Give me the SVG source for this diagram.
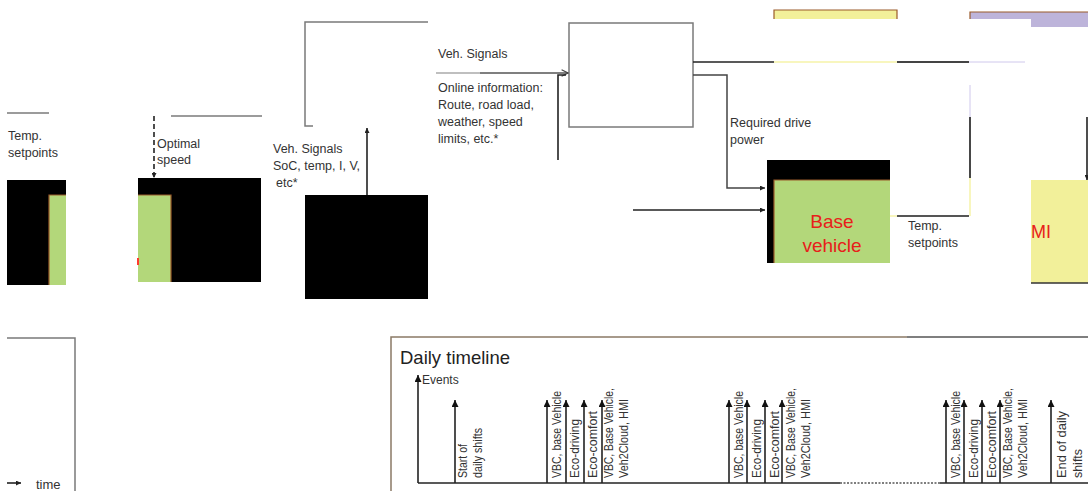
<svg xmlns="http://www.w3.org/2000/svg" width="1088" height="491" viewBox="0 0 1088 491">
<defs>
<style>
.lbl{font-family:"Liberation Sans",Arial,sans-serif;font-size:12.5px;fill:#333}
.ev{font-family:"Liberation Sans",Arial,sans-serif;font-size:12px;fill:#333}
.red{font-family:"Liberation Sans",Arial,sans-serif;font-size:19px;fill:#e8201a}
.ln{fill:none;stroke:#222;stroke-width:1.6}
.gl{fill:none;stroke:#7a7a7a;stroke-width:1.5}
.faint{fill:none;stroke:#f6f3a8;stroke-width:1.5}
.green{fill:#b3d77a}
.brown{fill:none;stroke:#9a5a2a;stroke-width:1.2}
</style>
<marker id="ah" viewBox="0 0 10 10" refX="10" refY="5" markerWidth="5" markerHeight="5" orient="auto" markerUnits="userSpaceOnUse">
<path d="M0,0 L10,5 L0,10 z" fill="#222"/>
</marker>
<marker id="ahs" viewBox="0 0 10 10" refX="10" refY="5" markerWidth="7" markerHeight="7" orient="auto" markerUnits="userSpaceOnUse">
<path d="M0,0 L10,5 L0,10 z" fill="#111"/>
</marker>
<marker id="aho" viewBox="0 0 10 10" refX="9" refY="5" markerWidth="8" markerHeight="8" orient="auto" markerUnits="userSpaceOnUse">
<path d="M1,1 L9,5 L1,9" fill="none" stroke="#444" stroke-width="1.4"/>
</marker>
</defs>
<rect width="1088" height="491" fill="#fff"/>

<g id="node-left-a">
<rect x="7" y="180" width="59" height="105" fill="#000"/>
<rect class="green" x="49" y="195" width="17" height="90"/>
<path class="brown" d="M49,285 V195 H66"/>
<text class="lbl" x="8" y="140">Temp.</text>
<text class="lbl" x="8" y="157">setpoints</text>
</g>

<g id="node-left-b">
<rect x="138" y="178" width="123" height="104" fill="#000"/>
<rect class="green" x="138" y="195" width="33" height="87"/>
<path class="brown" d="M138,195 H171 V282"/>
<rect x="137" y="258" width="2" height="7" fill="#ff3b2f"/>
<text class="lbl" x="157" y="148">Optimal</text>
<text class="lbl" x="157" y="164">speed</text>
</g>

<g id="node-top-mid">
<path class="gl" d="M428,22 H305 V126 H313"/>
</g>

<g id="node-mid-black">
<rect x="305" y="195" width="123" height="104" fill="#000"/>
<text class="lbl" x="273" y="153">Veh. Signals</text>
<text class="lbl" x="273" y="170">SoC, temp, I, V,</text>
<text class="lbl" x="276" y="187">etc*</text>
</g>

<g id="node-box">
<rect x="569" y="23" width="124" height="104" fill="#fff" stroke="#7a7a7a" stroke-width="1.5"/>
</g>

<g id="node-yellow-top">
<path d="M774,19 V10 H897 V19" fill="#f2f09a" stroke="#9a5a2a" stroke-width="1.2"/>
</g>

<g id="node-purple-top">
<path d="M970,19 V12 H1088 V27 H1031 V19 Z" fill="#bdb4da"/>
<path d="M970,19 V12 H1088" fill="none" stroke="#9a5a2a" stroke-width="1.2"/>
</g>

<g id="node-base-vehicle">
<rect x="767" y="160" width="123" height="103" fill="#000"/>
<rect class="green" x="774" y="180" width="116" height="83"/>
<path class="brown" d="M774,263 V180 H890"/>
<text class="red" x="832" y="228" text-anchor="middle">Base</text>
<text class="red" x="832" y="252" text-anchor="middle">vehicle</text>
</g>

<g id="node-hmi">
<rect x="1031" y="180" width="57" height="103" fill="#f2f09a"/>
<line x1="1031" y1="283" x2="1088" y2="283" stroke="#333" stroke-width="1.5"/>
<text class="red" x="1031" y="238" style="font-size:18px">MI</text>
</g>

<g id="node-legend">
<path class="gl" d="M7,338 H75 V491"/>
<text class="lbl" x="36" y="489" style="font-size:13px">time</text>
</g>

<g id="node-timeline">
<path d="M391,491 V337 H907" fill="none" stroke="#8a7a66" stroke-width="1.5"/>
<path d="M907,337 H1088" fill="none" stroke="#555" stroke-width="1.5"/>
<text x="400" y="364" style="font-family:'Liberation Sans',Arial,sans-serif;font-size:18.5px;fill:#222">Daily timeline</text>
<text class="ev" x="422" y="384">Events</text>
</g>

<g id="connectors">
<path class="gl" d="M7,113 H49"/>
<path class="gl" d="M171,116 H262"/>
<path d="M154,116 V178" fill="none" stroke="#222" stroke-width="1.6" stroke-dasharray="5,3" marker-end="url(#ah)"/>
<path class="ln" d="M367,195 V128" marker-end="url(#ah)"/>
<path d="M436,73 H480" fill="none" stroke="#aaa" stroke-width="1.5"/>
<path d="M480,73 H568" fill="none" stroke="#555" stroke-width="1.5" marker-end="url(#aho)"/>
<path class="ln" d="M558,160 V75 H566"/>
<path class="ln" d="M693,62 H774"/>
<path class="faint" d="M774,62 H897"/>
<path d="M897,62 H969" fill="none" stroke="#444" stroke-width="1.8"/>
<path d="M969,62 H1025" fill="none" stroke="#cfc8ec" stroke-width="1"/>
<path d="M693,75 H727 V188 H765" fill="none" stroke="#444" stroke-width="1.5" marker-end="url(#ah)"/>
<path class="ln" d="M633,210 H765" marker-end="url(#ah)"/>
<path class="faint" d="M890,216 H897"/>
<path d="M897,216 H969" fill="none" stroke="#555" stroke-width="1.8"/>
<path class="faint" d="M970,216 V178"/>
<path d="M970,178 V117" fill="none" stroke="#333" stroke-width="1.8"/>
<path d="M970,117 V85" fill="none" stroke="#cfc8ec" stroke-width="1"/>
<path class="ln" d="M1087,117 V180" marker-end="url(#ah)"/>
<path class="ln" d="M7,483 H21" marker-end="url(#ah)"/>
<text class="lbl" x="438" y="58">Veh. Signals</text>
<text class="lbl" x="438" y="92">Online information:</text>
<text class="lbl" x="438" y="109">Route, road load,</text>
<text class="lbl" x="438" y="126">weather, speed</text>
<text class="lbl" x="438" y="143">limits, etc.*</text>
<text class="lbl" x="730" y="127">Required drive</text>
<text class="lbl" x="730" y="144">power</text>
<text class="lbl" x="908" y="230">Temp.</text>
<text class="lbl" x="908" y="247">setpoints</text>
</g>

<g id="timeline-events">
<path class="ln" d="M418,483 V375" marker-end="url(#ahs)"/>
<path class="ln" d="M418,483 H840"/>
<path d="M840,483 H940" fill="none" stroke="#555" stroke-width="1.6" stroke-dasharray="2,1.5"/>
<path class="ln" d="M940,483 H1088"/>
<g class="ln" marker-end="url(#ahs)">
<path d="M455,483 V400"/>
<path d="M547,483 V400"/>
<path d="M566,483 V400"/>
<path d="M584,483 V400"/>
<path d="M602,483 V400"/>
<path d="M729,483 V400"/>
<path d="M747,483 V400"/>
<path d="M765,483 V400"/>
<path d="M782,483 V400"/>
<path d="M946,483 V400"/>
<path d="M964,483 V400"/>
<path d="M982,483 V400"/>
<path d="M1000,483 V400"/>
<path d="M1051,483 V400"/>
</g>
<g class="ev">
<text transform="translate(467,478) rotate(-90)" textLength="34" lengthAdjust="spacingAndGlyphs">Start of</text>
<text transform="translate(482,478) rotate(-90)" textLength="50" lengthAdjust="spacingAndGlyphs">daily shifts</text>

<text transform="translate(561,478) rotate(-90)" textLength="87" lengthAdjust="spacingAndGlyphs">VBC, base Vehicle</text>
<text transform="translate(579,478) rotate(-90)" textLength="59" lengthAdjust="spacingAndGlyphs">Eco-driving</text>
<text transform="translate(597,478) rotate(-90)" textLength="67" lengthAdjust="spacingAndGlyphs">Eco-comfort</text>
<text transform="translate(613,478) rotate(-90)" textLength="90" lengthAdjust="spacingAndGlyphs">VBC, Base Vehicle,</text>
<text transform="translate(628,478) rotate(-90)" textLength="79" lengthAdjust="spacingAndGlyphs">Veh2Cloud, HMI</text>

<text transform="translate(743,478) rotate(-90)" textLength="87" lengthAdjust="spacingAndGlyphs">VBC, base Vehicle</text>
<text transform="translate(761,478) rotate(-90)" textLength="59" lengthAdjust="spacingAndGlyphs">Eco-driving</text>
<text transform="translate(779,478) rotate(-90)" textLength="67" lengthAdjust="spacingAndGlyphs">Eco-comfort</text>
<text transform="translate(795,478) rotate(-90)" textLength="90" lengthAdjust="spacingAndGlyphs">VBC, Base Vehicle,</text>
<text transform="translate(810,478) rotate(-90)" textLength="79" lengthAdjust="spacingAndGlyphs">Veh2Cloud, HMI</text>

<text transform="translate(960,478) rotate(-90)" textLength="87" lengthAdjust="spacingAndGlyphs">VBC, base Vehicle</text>
<text transform="translate(978,478) rotate(-90)" textLength="59" lengthAdjust="spacingAndGlyphs">Eco-driving</text>
<text transform="translate(996,478) rotate(-90)" textLength="67" lengthAdjust="spacingAndGlyphs">Eco-comfort</text>
<text transform="translate(1012,478) rotate(-90)" textLength="90" lengthAdjust="spacingAndGlyphs">VBC, Base Vehicle,</text>
<text transform="translate(1027,478) rotate(-90)" textLength="79" lengthAdjust="spacingAndGlyphs">Veh2Cloud, HMI</text>

<text transform="translate(1066,478) rotate(-90)" textLength="67" lengthAdjust="spacingAndGlyphs">End of daily</text>
<text transform="translate(1082,478) rotate(-90)" textLength="29" lengthAdjust="spacingAndGlyphs">shifts</text>
</g>
</g>
</svg>
